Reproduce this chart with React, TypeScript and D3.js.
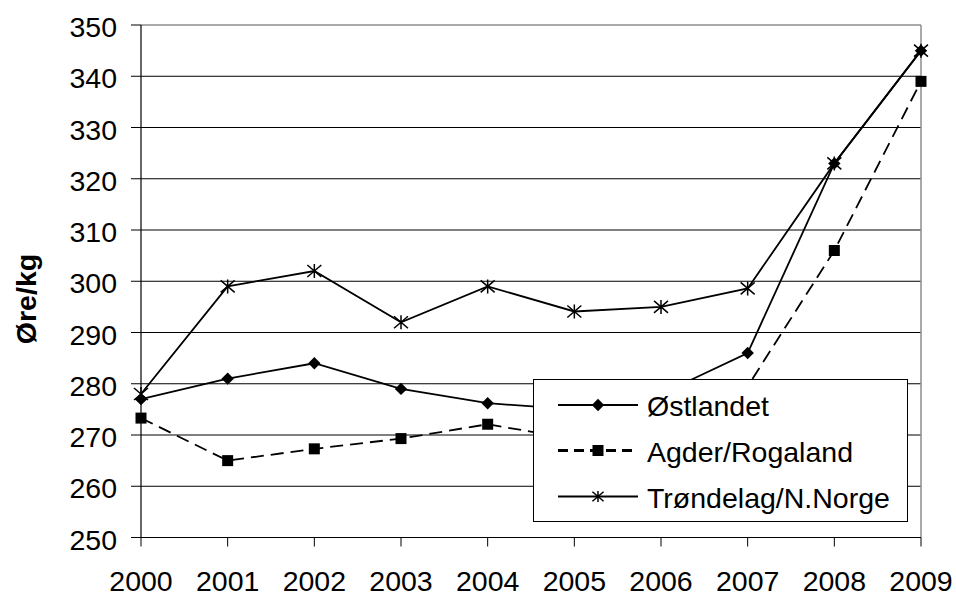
import React from "react";
import * as d3 from "d3";

const years = ["2000", "2001", "2002", "2003", "2004", "2005", "2006", "2007", "2008", "2009"];
const ostlandet = [277, 281, 284, 279, 276.2, 275, 278, 286, 323, 345];
const agder = [273.3, 265, 267.3, 269.3, 272.1, 269.2, 271, 279.5, 306, 339];
const trondelag = [278, 299, 302, 292, 299, 294.1, 295, 298.6, 323, 345];
const yTicks = [250, 260, 270, 280, 290, 300, 310, 320, 330, 340, 350];
const seriesNames = ["Østlandet", "Agder/Rogaland", "Trøndelag/N.Norge"];
const yTitle = "Øre/kg";

const FONT = "'Liberation Sans', Arial, sans-serif";

const W = 956;
const H = 595;
const L = 141, R = 921, T = 25, B = 537.5;

function Marker({ kind, x, y, s = 1 }: { kind: string; x: number; y: number; s?: number }) {
  if (kind === "diamond") {
    const r = 6.2 * s;
    return <path d={`M${x},${y - r}L${x + r},${y}L${x},${y + r}L${x - r},${y}Z`} fill="#000" />;
  }
  if (kind === "square") {
    const h = 5.5 * s;
    return <rect x={x - h} y={y - h} width={2 * h} height={2 * h} fill="#000" />;
  }
  const a = 7 * s, b = 6 * s, c = 7 * s;
  return (
    <path
      d={`M${x - a},${y - b}L${x + a},${y + b}M${x - a},${y + b}L${x + a},${y - b}M${x},${y - c}L${x},${y + c}`}
      stroke="#000"
      strokeWidth={1.5}
      fill="none"
    />
  );
}

export default function App() {
  const x = d3.scalePoint<string>().domain(years).range([L, R]);
  const y = d3.scaleLinear().domain([250, 350]).range([B, T]);
  const line = d3
    .line<number>()
    .x((_, i) => x(years[i]) as number)
    .y((d) => y(d));

  const series = [
    { name: seriesNames[0], data: ostlandet, kind: "diamond", dash: undefined as string | undefined },
    { name: seriesNames[1], data: agder, kind: "square", dash: "13,7" },
    { name: seriesNames[2], data: trondelag, kind: "star", dash: undefined },
  ];

  const legX = 533.5, legY = 379.5, legW = 374, legH = 142;
  const rowY = [405, 450.5, 496.5];

  return (
    <svg
      width={W}
      height={H}
      style={{ position: "absolute", left: 0, top: 0, background: "#fff" }}
      fontFamily={FONT}
    >
      <rect x={0} y={0} width={W} height={H} fill="#fff" />
      {/* gridlines */}
      {yTicks
        .filter((t) => t !== 250 && t !== 350)
        .map((t) => (
          <line key={"g" + t} x1={L} x2={R} y1={y(t)} y2={y(t)} stroke="#000" strokeWidth={1} />
        ))}
      {/* plot border (top/right gray) */}
      <line x1={L} x2={R} y1={T} y2={T} stroke="#8c8c8c" strokeWidth={1.5} />
      <line x1={R} x2={R} y1={T} y2={B} stroke="#8c8c8c" strokeWidth={1.5} />
      {/* axes */}
      <line x1={L} x2={L} y1={T} y2={B} stroke="#000" strokeWidth={1.2} />
      <line x1={L} x2={R} y1={B} y2={B} stroke="#000" strokeWidth={1.2} />
      {yTicks.map((t) => (
        <g key={"yt" + t}>
          <line x1={131} x2={L} y1={y(t)} y2={y(t)} stroke="#000" strokeWidth={1} />
          <text x={117} y={y(t) + 2} textAnchor="end" dominantBaseline="central" fontSize={28.5} fill="#000">
            {t}
          </text>
        </g>
      ))}
      {years.map((yr) => (
        <g key={"xt" + yr}>
          <line x1={x(yr)} x2={x(yr)} y1={B} y2={B + 9} stroke="#000" strokeWidth={1} />
          <text x={x(yr)} y={591} textAnchor="middle" fontSize={28.5} fill="#000">
            {yr}
          </text>
        </g>
      ))}
      <text
        transform={`translate(26,299) rotate(-90)`}
        textAnchor="middle"
        dominantBaseline="central"
        fontSize={28.5}
        fontWeight="bold"
        fill="#000"
      >
        {yTitle}
      </text>
      {/* series */}
      {series.map((s) => (
        <g key={s.name}>
          <path d={line(s.data) || ""} fill="none" stroke="#000" strokeWidth={1.8} strokeDasharray={s.dash} />
          {s.data.map((v, i) => (
            <Marker key={i} kind={s.kind} x={x(years[i]) as number} y={y(v)} />
          ))}
        </g>
      ))}
      {/* legend */}
      <rect x={legX} y={legY} width={legW} height={legH} fill="#fff" stroke="#000" strokeWidth={1} />
      {series.map((s, i) => (
        <g key={"leg" + s.name}>
          <line
            x1={558}
            x2={638}
            y1={rowY[i]}
            y2={rowY[i]}
            stroke="#000"
            strokeWidth={s.dash ? 3 : 1.8}
            strokeDasharray={s.dash ? "10,6" : undefined}
          />
          <Marker kind={s.kind} x={598} y={rowY[i]} s={i === 2 ? 0.8 : 1} />
          <text x={647} y={rowY[i] + 1} dominantBaseline="central" fontSize={28.5} fill="#000">
            {s.name}
          </text>
        </g>
      ))}
    </svg>
  );
}
